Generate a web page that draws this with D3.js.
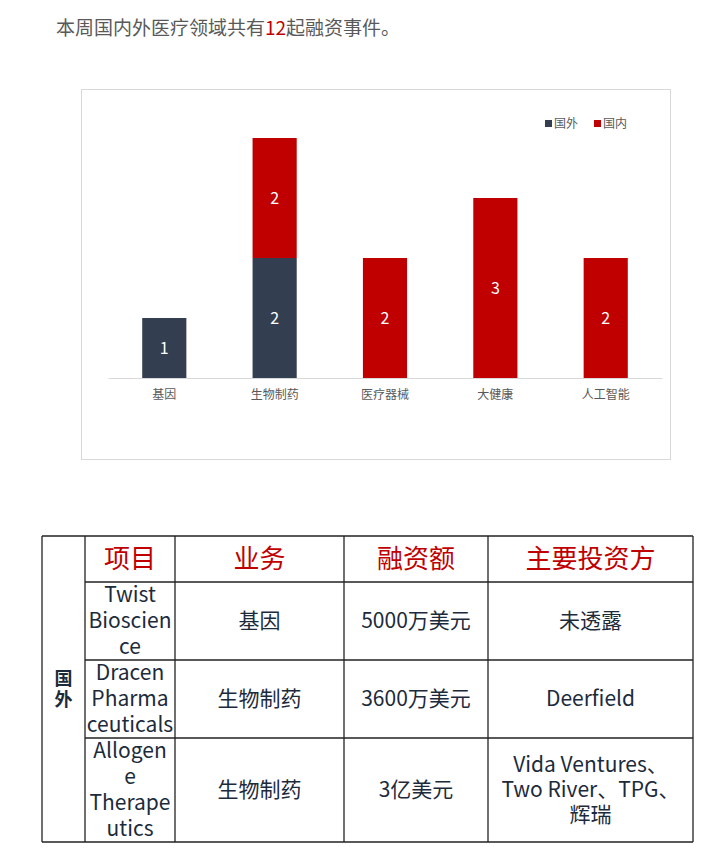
<!DOCTYPE html>
<html>
<head>
<meta charset="utf-8">
<script src="https://cdn.jsdelivr.net/npm/d3@7/dist/d3.min.js"></script>
<style>
  body { margin: 0; background: #fff; }
  svg text { font-family: "Noto Sans CJK SC", "Noto Sans", sans-serif; }
</style>
</head>
<body>
<div id="chart"></div>
<script>
// chart data
var categories = ['基因', '生物制药', '医疗器械', '大健康', '人工智能'];
var seriesNames = ['国外', '国内'];
var foreign = [1, 2, 0, 0, 0];
var domestic = [0, 2, 2, 3, 2];
var seriesColors = ['#333f50', '#c00000'];

// table data
var tableHeaders = ['项目', '业务', '融资额', '主要投资方'];
var sideLabel = ['国', '外'];
var projects = [['Twist', 'Bioscien', 'ce'], ['Dracen', 'Pharma', 'ceuticals'], ['Allogen', 'e', 'Therape', 'utics']];
var business = ['基因', '生物制药', '生物制药'];
var amounts = ['5000万美元', '3600万美元', '3亿美元'];
var investors = [['未透露'], ['Deerfield'], ['Vida Ventures、', 'Two River、TPG、', '辉瑞']];

var svg = d3.select('#chart').append('svg')
    .attr('width', 720).attr('height', 848);

/* intro line */
var intro = svg.append('text')
    .attr('x', 56).attr('y', 35)
    .style('font-size', '19px').style('fill', '#595959');
intro.append('tspan').text('本周国内外医疗领域共有');
intro.append('tspan').style('fill', '#c00000').text('12');
intro.append('tspan').text('起融资事件。');

/* chart frame */
svg.append('rect')
    .attr('x', 81.5).attr('y', 89.5)
    .attr('width', 589).attr('height', 370)
    .style('fill', 'none').style('stroke', '#d9d9d9');

var x = d3.scaleBand()
    .domain(categories)
    .range([108, 662])
    .paddingInner(0.6)
    .paddingOuter(0.31);

var y = d3.scaleLinear()
    .domain([0, 4])
    .range([378, 138]);

var rows = categories.map(function(c, i) {
  return {cat: c, '国外': foreign[i], '国内': domestic[i]};
});
var stacked = d3.stack().keys(seriesNames)(rows);

var layers = svg.selectAll('g.layer')
    .data(stacked)
    .enter().append('g')
    .attr('class', 'layer')
    .style('fill', function(d, i) { return seriesColors[i]; });

layers.selectAll('rect')
    .data(function(d) { return d.filter(function(s) { return s[1] - s[0] > 0; }); })
    .enter().append('rect')
    .attr('x', function(d) { return x(d.data.cat); })
    .attr('width', x.bandwidth())
    .attr('y', function(d) { return y(d[1]); })
    .attr('height', function(d) { return y(d[0]) - y(d[1]); });

layers.selectAll('text')
    .data(function(d) { return d.filter(function(s) { return s[1] - s[0] > 0; }); })
    .enter().append('text')
    .attr('x', function(d) { return x(d.data.cat) + x.bandwidth() / 2; })
    .attr('y', function(d) { return (y(d[0]) + y(d[1])) / 2; })
    .attr('dy', '0.35em')
    .attr('text-anchor', 'middle')
    .style('fill', '#fff')
    .style('font-size', '16px')
    .text(function(d) { return d[1] - d[0]; });

// x axis
var xAxis = svg.append('g')
    .attr('transform', 'translate(0,378)')
    .call(d3.axisBottom(x).tickSize(0).tickPadding(12));
xAxis.select('.domain').style('stroke', '#d9d9d9');
xAxis.selectAll('text')
    .style('font-size', '12px')
    .style('fill', '#595959')
    .style('font-family', '"Noto Sans CJK SC", sans-serif');

// legend
var legend = svg.selectAll('g.legend')
    .data(seriesNames)
    .enter().append('g')
    .attr('class', 'legend')
    .attr('transform', function(d, i) { return 'translate(' + (545 + i * 49) + ',120)'; });
legend.append('rect')
    .attr('width', 7).attr('height', 7)
    .style('fill', function(d, i) { return seriesColors[i]; });
legend.append('text')
    .attr('x', 9).attr('y', 3.5).attr('dy', '0.35em')
    .style('font-size', '12px').style('fill', '#595959')
    .text(function(d) { return d; });

/* table */
var colX = [42, 85, 175, 344, 488, 693];
var rowY = [536, 582, 660, 738, 842];
var tbl = svg.append('g');
var ink = '#1c2b3c';

function line(x1, y1, x2, y2) {
  tbl.append('line')
      .attr('x1', x1).attr('y1', y1).attr('x2', x2).attr('y2', y2)
      .style('stroke', '#222').style('stroke-width', 1.3);
}
line(colX[0], rowY[0], colX[5], rowY[0]);
line(colX[0], rowY[4], colX[5], rowY[4]);
rowY.slice(1, 4).forEach(function(yy) { line(colX[1], yy, colX[5], yy); });
colX.forEach(function(xx) { line(xx, rowY[0], xx, rowY[4]); });

function cellText(lines, col, row, size, color, lh, weight) {
  var cx = (colX[col] + colX[col + 1]) / 2;
  var cy = (rowY[row] + rowY[row + 1]) / 2;
  var top = cy - (lines.length - 1) * lh / 2;
  tbl.selectAll(null)
      .data(lines)
      .enter().append('text')
      .attr('x', cx)
      .attr('y', function(d, i) { return top + i * lh; })
      .attr('dy', '0.35em')
      .attr('text-anchor', 'middle')
      .style('font-size', size + 'px')
      .style('font-weight', weight || 'normal')
      .style('fill', color)
      .text(function(d) { return d; });
}

// merged side cell
tbl.selectAll(null)
    .data(sideLabel)
    .enter().append('text')
    .attr('x', (colX[0] + colX[1]) / 2)
    .attr('y', function(d, i) { return 679 + i * 21; })
    .attr('dy', '0.35em')
    .attr('text-anchor', 'middle')
    .style('font-size', '18px').style('font-weight', 'bold').style('fill', ink)
    .text(function(d) { return d; });

tableHeaders.forEach(function(h, i) {
  cellText([h], i + 1, 0, 26, '#c00000', 0);
});
projects.forEach(function(p, r) {
  cellText(p, 1, r + 1, 21, ink, 26);
  cellText([business[r]], 2, r + 1, 21, ink, 0);
  cellText([amounts[r]], 3, r + 1, 21, ink, 0);
  cellText(investors[r], 4, r + 1, 21, ink, 25);
});
</script>
</body>
</html>
